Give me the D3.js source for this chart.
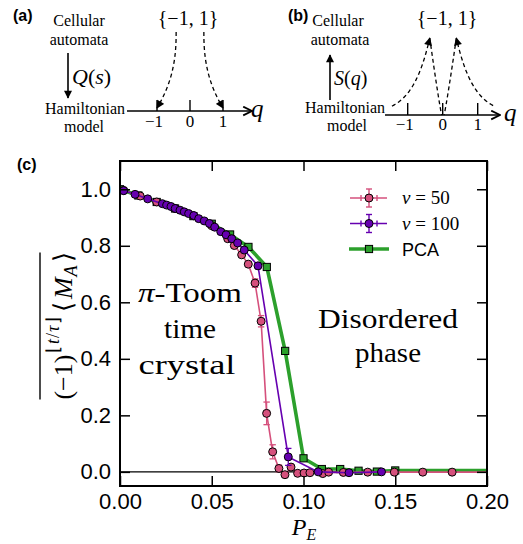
<!DOCTYPE html>
<html><head><meta charset="utf-8">
<script src="https://cdn.jsdelivr.net/npm/d3@7/dist/d3.min.js"></script>
<style>body{margin:0;background:#fff} svg{display:block}</style>
</head><body>
<svg id="c" width="523" height="544"></svg>
<script>
// ---------------- data ----------------
const xTicks = [0.00, 0.05, 0.10, 0.15, 0.20];
const xTickLabels = ["0.00", "0.05", "0.10", "0.15", "0.20"];
const yTicks = [0.0, 0.2, 0.4, 0.6, 0.8, 1.0];
const yTickLabels = ["0.0", "0.2", "0.4", "0.6", "0.8", "1.0"];

const v50X = [0.002, 0.011, 0.020, 0.030, 0.040, 0.050, 0.0587, 0.0623, 0.0663, 0.0699, 0.0736, 0.0769, 0.0799, 0.0832, 0.0866, 0.0899, 0.0932, 0.0968, 0.1003, 0.1035, 0.1105, 0.1137, 0.1217, 0.1350, 0.1495, 0.1650, 0.1810, 0.2100];
const v50Y = [0.996, 0.976, 0.955, 0.932, 0.906, 0.871, 0.825, 0.801, 0.768, 0.735, 0.668, 0.533, 0.207, 0.071, 0.012, -0.010, 0.017, -0.005, -0.004, -0.003, -0.006, -0.001, -0.002, -0.001, -0.001, -0.001, -0.001, -0.001];
const v50Err = [0.002, 0.002, 0.002, 0.002, 0.003, 0.003, 0.004, 0.004, 0.005, 0.007, 0.015, 0.020, 0.040, 0.025, 0.012, 0.006, 0.006, 0.004, 0.003, 0.003, 0.003, 0.002, 0.002, 0.002, 0.002, 0.002, 0.002, 0.002];

const v100X = [0.002, 0.0082, 0.0151, 0.0231, 0.0254, 0.0278, 0.0301, 0.0327, 0.0350, 0.0374, 0.0402, 0.0429, 0.0459, 0.0487, 0.0516, 0.0549, 0.0578, 0.0609, 0.0641, 0.0677, 0.0752, 0.0917, 0.1080, 0.1248, 0.1425];
const v100Y = [0.995, 0.982, 0.966, 0.949, 0.944, 0.939, 0.932, 0.926, 0.920, 0.914, 0.907, 0.896, 0.888, 0.879, 0.866, 0.850, 0.839, 0.825, 0.810, 0.785, 0.729, 0.053, 0.000, -0.003, 0.000];
const v100Err = [0.002, 0.002, 0.002, 0.002, 0.002, 0.002, 0.002, 0.002, 0.002, 0.002, 0.002, 0.003, 0.003, 0.003, 0.003, 0.003, 0.004, 0.004, 0.005, 0.006, 0.010, 0.030, 0.004, 0.002, 0.002];

const pcaX = [0.00, 0.01, 0.02, 0.03, 0.04, 0.05, 0.06, 0.07, 0.08, 0.09, 0.10, 0.11, 0.12, 0.13, 0.14, 0.15, 0.16, 0.17, 0.18, 0.19, 0.20, 0.21];
const pcaY = [1.000, 0.978, 0.955, 0.932, 0.905, 0.878, 0.840, 0.796, 0.725, 0.428, 0.048, 0.010, 0.010, 0.004, 0.001, 0.005, 0.005, 0.005, 0.005, 0.005, 0.005, 0.005];
const pcaMarkerCount = 16;

const seriesNames = ["v = 50", "v = 100", "PCA"];
const colors = { v50: "#d5507c", v100: "#6600b0", pca: "#2ca02c" };

// ---------------- drawing ----------------
const svg = d3.select("#c");
const SERIF = "'Liberation Serif', 'Times New Roman', serif";
const SANS = "'Liberation Sans', Arial, Helvetica, sans-serif";

const defs = svg.append("defs");
defs.append("marker").attr("id", "ah").attr("viewBox", "0 0 10 10").attr("refX", 9).attr("refY", 5)
  .attr("markerWidth", 9).attr("markerHeight", 8).attr("markerUnits", "userSpaceOnUse").attr("orient", "auto")
  .append("path").attr("d", "M0,0 L10,5 L0,10 Z").attr("fill", "#000");
defs.append("marker").attr("id", "chev").attr("viewBox", "0 0 10 10").attr("refX", 9).attr("refY", 5)
  .attr("markerWidth", 11).attr("markerHeight", 11).attr("markerUnits", "userSpaceOnUse").attr("orient", "auto")
  .append("path").attr("d", "M1,1 L9,5 L1,9").attr("fill", "none").attr("stroke", "#000").attr("stroke-width", 1.6);

// ---------- panel (a) ----------
function label(x, y, txt, opts = {}) {
  return svg.append("text").attr("x", x).attr("y", y).attr("text-anchor", opts.anchor || "middle")
    .style("font-family", opts.family || SERIF).style("font-size", (opts.size || 16) + "px")
    .style("font-style", opts.italic ? "italic" : "normal").style("font-weight", opts.bold ? "bold" : "normal")
    .text(txt);
}
label(13, 21, "(a)", { anchor: "start", family: SANS, bold: true, size: 16 });
label(79, 26, "Cellular");
label(79, 45, "automata");
label(85, 114, "Hamiltonian");
label(84, 132, "model");
svg.append("line").attr("x1", 68).attr("y1", 53).attr("x2", 68).attr("y2", 98)
  .attr("stroke", "#000").attr("stroke-width", 1.6).attr("marker-end", "url(#ah)");
{
  const t = svg.append("text").attr("x", 72).attr("y", 84).style("font-family", SERIF).style("font-size", "22px");
  t.append("tspan").style("font-style", "italic").text("Q");
  t.append("tspan").text("(");
  t.append("tspan").style("font-style", "italic").text("s");
  t.append("tspan").text(")");
}
label(188, 25, "{−1, 1}", { size: 20 });
const qa = d3.scaleLinear().domain([-1, 1]).range([157, 223]);
const ya = 111;
svg.append("line").attr("x1", 127).attr("y1", ya).attr("x2", 252).attr("y2", ya)
  .attr("stroke", "#000").attr("stroke-width", 1.6).attr("marker-end", "url(#chev)");
[-1, 0, 1].forEach(v => {
  svg.append("line").attr("x1", qa(v)).attr("x2", qa(v)).attr("y1", ya - 11).attr("y2", ya).attr("stroke", "#000").attr("stroke-width", 1.4);
  label(qa(v) + (v < 0 ? -3 : 0), 127, v < 0 ? "−1" : String(v), { size: 17 });
});
label(251, 117, "q", { anchor: "start", italic: true, size: 25 });
const tA = d3.range(0, 1.0001, 0.02);
const yAs = d3.scaleLinear().domain([0, 1]).range([32, 108]);
[-1, 1].forEach(s => {
  const pts = tA.map(t => [qa(s * (0.42 + 0.58 * Math.pow(t, 2.4))), yAs(t)]);
  svg.append("path").attr("d", d3.line()(pts)).attr("fill", "none").attr("stroke", "#000")
    .attr("stroke-width", 1.3).attr("stroke-dasharray", "4,3").attr("marker-end", "url(#ah)");
});

// ---------- panel (b) ----------
label(288, 21, "(b)", { anchor: "start", family: SANS, bold: true, size: 16 });
label(338, 26, "Cellular");
label(340, 45, "automata");
label(345, 113, "Hamiltonian");
label(347, 131, "model");
svg.append("line").attr("x1", 330).attr("y1", 100).attr("x2", 330).attr("y2", 55)
  .attr("stroke", "#000").attr("stroke-width", 1.6).attr("marker-end", "url(#ah)");
{
  const t = svg.append("text").attr("x", 334).attr("y", 85).style("font-family", SERIF).style("font-size", "20px");
  t.append("tspan").style("font-style", "italic").text("S");
  t.append("tspan").text("(");
  t.append("tspan").style("font-style", "italic").text("q");
  t.append("tspan").text(")");
}
label(447, 25, "{−1, 1}", { size: 20 });
const qb = d3.scaleLinear().domain([-1, 1]).range([407.7, 477.7]);
const yb = 115;
svg.append("line").attr("x1", 385).attr("y1", yb).attr("x2", 500).attr("y2", yb)
  .attr("stroke", "#000").attr("stroke-width", 1.6).attr("marker-end", "url(#chev)");
[-1, 0, 1].forEach(v => {
  svg.append("line").attr("x1", qb(v)).attr("x2", qb(v)).attr("y1", yb - 12).attr("y2", yb).attr("stroke", "#000").attr("stroke-width", 1.4);
  label(qb(v) + (v < 0 ? -3 : 0), 130, v < 0 ? "−1" : String(v), { size: 17 });
});
label(504, 121, "q", { anchor: "start", italic: true, size: 25 });
const hb = d3.scaleLinear().domain([0, 1]).range([yb, 38]);
[[-0.37, -1.45, -0.03], [0.39, 1.44, 0.04]].forEach(([q0, qOut, qIn]) => {
  const outer = d3.range(0, 1.0001, 0.02).map(t => {
    const q = qOut + (q0 - qOut) * t;
    return [qb(q), hb(Math.exp(-Math.abs(q - q0) / 0.5))];
  });
  svg.append("path").attr("d", d3.line()(outer)).attr("fill", "none").attr("stroke", "#000")
    .attr("stroke-width", 1.3).attr("stroke-dasharray", "4,3").attr("marker-end", "url(#ah)");
  const inner = d3.range(0, 1.0001, 0.05).map(t => {
    const q = q0 + (qIn - q0) * t;
    return [qb(q), hb(Math.pow(1 - t, 1.1))];
  });
  svg.append("path").attr("d", d3.line()(inner)).attr("fill", "none").attr("stroke", "#000")
    .attr("stroke-width", 1.3).attr("stroke-dasharray", "4,3");
});

// ---------- panel (c) ----------
label(17, 170, "(c)", { anchor: "start", family: SANS, bold: true, size: 16 });
const L = 120, R = 487, T = 161, B = 486;
const x = d3.scaleLinear().domain([0, 0.2]).range([L, R]);
const y = d3.scaleLinear().domain([-0.05, 1.1]).range([B, T]);

defs.append("clipPath").attr("id", "plotclip").append("rect").attr("x", L).attr("y", T).attr("width", R - L).attr("height", B - T);

// zero line
svg.append("line").attr("x1", L).attr("x2", R).attr("y1", y(0)).attr("y2", y(0)).attr("stroke", "#000").attr("stroke-width", 1.3);

const plot = svg.append("g").attr("clip-path", "url(#plotclip)");
const line = d3.line().x(d => x(d[0])).y(d => y(d[1]));

// PCA
const pcaPts = pcaX.map((v, i) => [v, pcaY[i]]);
plot.append("path").attr("d", line(pcaPts)).attr("fill", "none").attr("stroke", colors.pca).attr("stroke-width", 3.6).attr("stroke-linejoin", "round");
plot.selectAll(".pcam").data(pcaPts.slice(0, pcaMarkerCount)).enter().append("rect")
  .attr("x", d => x(d[0]) - 3.6).attr("y", d => y(d[1]) - 3.6).attr("width", 7.2).attr("height", 7.2)
  .attr("fill", colors.pca).attr("stroke", "#000").attr("stroke-width", 1);

function errSeries(X, Y, E, color) {
  const pts = X.map((v, i) => [v, Y[i], E[i]]);
  const g = plot.append("g");
  g.append("path").attr("d", line(pts)).attr("fill", "none").attr("stroke", color).attr("stroke-width", 1.6);
  pts.forEach(d => {
    if (y(d[1] - d[2]) - y(d[1] + d[2]) < 5) return;
    const cx = x(d[0]);
    g.append("line").attr("x1", cx).attr("x2", cx).attr("y1", y(d[1] - d[2])).attr("y2", y(d[1] + d[2])).attr("stroke", color).attr("stroke-width", 1.3);
    [d[1] - d[2], d[1] + d[2]].forEach(v => g.append("line").attr("x1", cx - 3.2).attr("x2", cx + 3.2).attr("y1", y(v)).attr("y2", y(v)).attr("stroke", color).attr("stroke-width", 1.3));
  });
  g.selectAll("circle").data(pts).enter().append("circle").attr("cx", d => x(d[0])).attr("cy", d => y(d[1])).attr("r", 4)
    .attr("fill", color).attr("stroke", "#000").attr("stroke-width", 1);
}
errSeries(v50X, v50Y, v50Err, colors.v50);
errSeries(v100X, v100Y, v100Err, colors.v100);

// axes
function styleAxis(g) {
  g.select(".domain").remove();
  g.selectAll(".tick line").attr("stroke", "#000").attr("stroke-width", 1.5);
  g.selectAll("text").style("font-family", SANS).style("font-size", "22px").attr("fill", "#000");
}
svg.append("g").attr("transform", `translate(0,${B})`)
  .call(d3.axisBottom(x).tickValues(xTicks).tickFormat((d, i) => xTickLabels[i]).tickSize(-10).tickPadding(7)).call(styleAxis);
svg.append("g").attr("transform", `translate(0,${T})`)
  .call(d3.axisTop(x).tickValues(xTicks).tickFormat("").tickSize(-10)).call(styleAxis);
svg.append("g").attr("transform", `translate(${L},0)`)
  .call(d3.axisLeft(y).tickValues(yTicks).tickFormat((d, i) => yTickLabels[i]).tickSize(-10).tickPadding(9)).call(styleAxis);
svg.append("g").attr("transform", `translate(${R},0)`)
  .call(d3.axisRight(y).tickValues(yTicks).tickFormat("").tickSize(-10)).call(styleAxis);
svg.append("rect").attr("x", L).attr("y", T).attr("width", R - L).attr("height", B - T)
  .attr("fill", "none").attr("stroke", "#000").attr("stroke-width", 2);

// legend
const legY = [198, 223.5, 249];
const legCols = [colors.v50, colors.v100, colors.pca];
legY.forEach((ly, i) => {
  const c = legCols[i];
  if (i < 2) {
    svg.append("line").attr("x1", 350).attr("x2", 387).attr("y1", ly).attr("y2", ly).attr("stroke", c).attr("stroke-width", 1.6);
    svg.append("line").attr("x1", 369).attr("x2", 369).attr("y1", ly - 9).attr("y2", ly + 9).attr("stroke", c).attr("stroke-width", 1.4);
    [-9, 9].forEach(o => svg.append("line").attr("x1", 366).attr("x2", 372).attr("y1", ly + o).attr("y2", ly + o).attr("stroke", c).attr("stroke-width", 1.4));
    [361, 377].forEach(xx => svg.append("line").attr("x1", xx).attr("x2", xx).attr("y1", ly - 3).attr("y2", ly + 3).attr("stroke", c).attr("stroke-width", 1.4));
    svg.append("circle").attr("cx", 369).attr("cy", ly).attr("r", 4).attr("fill", c).attr("stroke", "#000").attr("stroke-width", 1);
    const t = svg.append("text").attr("x", 402).attr("y", ly + 6).style("font-family", SERIF).style("font-size", "19px");
    const parts = seriesNames[i].split(" = ");
    t.append("tspan").style("font-style", "italic").text(parts[0]);
    t.append("tspan").text(" = " + parts[1]);
  } else {
    svg.append("line").attr("x1", 349).attr("x2", 389).attr("y1", ly).attr("y2", ly).attr("stroke", c).attr("stroke-width", 3.6);
    svg.append("rect").attr("x", 365.4).attr("y", ly - 3.6).attr("width", 7.2).attr("height", 7.2).attr("fill", c).attr("stroke", "#000").attr("stroke-width", 1);
    svg.append("text").attr("x", 402).attr("y", ly + 6.5).style("font-family", SANS).style("font-size", "18px").text(seriesNames[i]);
  }
});

// annotations
function ann(cx, by, txt, len, italicFirst) {
  const t = svg.append("text").attr("x", cx).attr("y", by).attr("text-anchor", "middle")
    .style("font-family", SERIF).style("font-size", "27px");
  if (italicFirst) {
    t.append("tspan").style("font-style", "italic").text(txt[0]);
    t.append("tspan").text(txt.slice(1));
  } else t.text(txt);
  t.attr("textLength", len).attr("lengthAdjust", "spacingAndGlyphs");
}
ann(190, 302, "π-Toom", 104, true);
ann(190, 338, "time", 52, false);
ann(187, 374, "crystal", 97, false);
ann(388, 328, "Disordered", 140, false);
ann(388, 362, "phase", 66, false);

// x label
{
  const t = svg.append("text").attr("x", 304).attr("y", 535).attr("text-anchor", "middle").style("font-family", SERIF).style("font-size", "24px");
  t.append("tspan").style("font-style", "italic").text("P");
  t.append("tspan").style("font-style", "italic").style("font-size", "16px").attr("dy", 5).text("E");
}
// y label
{
  const g = svg.append("g").attr("transform", "translate(72,326) rotate(-90)");
  const f = 26, s = 18;
  const t = g.append("text").attr("x", 0).attr("y", 0).attr("text-anchor", "middle").style("font-family", SERIF).style("font-size", f + "px");
  t.append("tspan").text("(−1)");
  t.append("tspan").attr("dy", -13).attr("dx", 2).style("font-size", s + "px").text("⌊");
  t.append("tspan").attr("dx", 1.5).style("font-size", s + "px").style("font-style", "italic").text("t");
  t.append("tspan").attr("dx", 1).style("font-size", s + "px").text("/");
  t.append("tspan").attr("dx", 1).style("font-size", s + "px").style("font-style", "italic").text("τ");
  t.append("tspan").attr("dx", 1.5).style("font-size", s + "px").text("⌋");
  t.append("tspan").attr("dy", 13).attr("dx", 5).text("⟨");
  t.append("tspan").attr("dx", 3).style("font-style", "italic").text("M");
  t.append("tspan").attr("dy", 5).attr("dx", 1).style("font-size", s + "px").style("font-style", "italic").text("A");
  t.append("tspan").attr("dy", -5).attr("dx", 3).text("⟩");
  const bb = t.node().getBBox();
  g.append("line").attr("x1", bb.x).attr("x2", bb.x + bb.width).attr("y1", -32).attr("y2", -32).attr("stroke", "#000").attr("stroke-width", 1.4);
}
</script>
</body></html>
